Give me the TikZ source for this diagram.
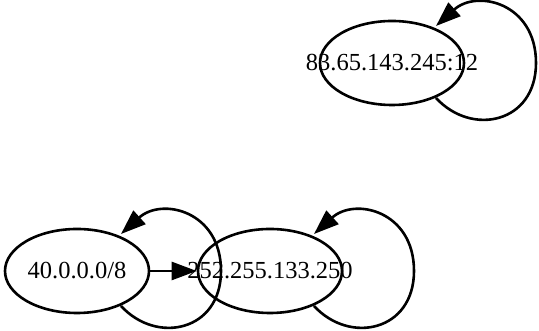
\documentclass[tikz,border=0pt]{standalone}
\usepackage{fontspec}
\setmainfont{Liberation Serif}
\usetikzlibrary{shapes.geometric,arrows.meta,calc}
\tikzset{
  gnode/.style={draw, ellipse, line width=2.6pt, minimum width=144pt, minimum height=84pt, inner sep=0pt,
    font=\fontsize{24.5}{28}\selectfont},
  gedge/.style={line width=2.6pt, -{Triangle[length=25pt,width=18pt]}},
}
\newcommand{\zw}[1]{\makebox[0pt]{#1}}
\begin{document}
\begin{tikzpicture}[x=1pt,y=1pt]
\useasboundingbox (0,0) rectangle (539,331);
\node[gnode] (A) at (392,268) {\zw{83.65.143.245:12}};
\node[gnode] (B) at (77,60) {\zw{40.0.0.0/8}};
\node[gnode] (C) at (270,60) {\zw{252.255.133.250}};
\draw[gedge] (B) -- (C);
\foreach \n in {A,B,C}{
  \coordinate (\n r) at ($(\n.center)+(144,0)$);
  \coordinate (\n s) at ($(\n.center)+(44,-35)$);
  \coordinate (\n e) at ($(\n.center)+(44,37)$);
  \draw[gedge] (\n s) .. controls +(36,-39) and +(0,-60) .. (\n r)
     .. controls +(0,60) and +(41,37) .. (\n e);
}
\end{tikzpicture}
\end{document}
